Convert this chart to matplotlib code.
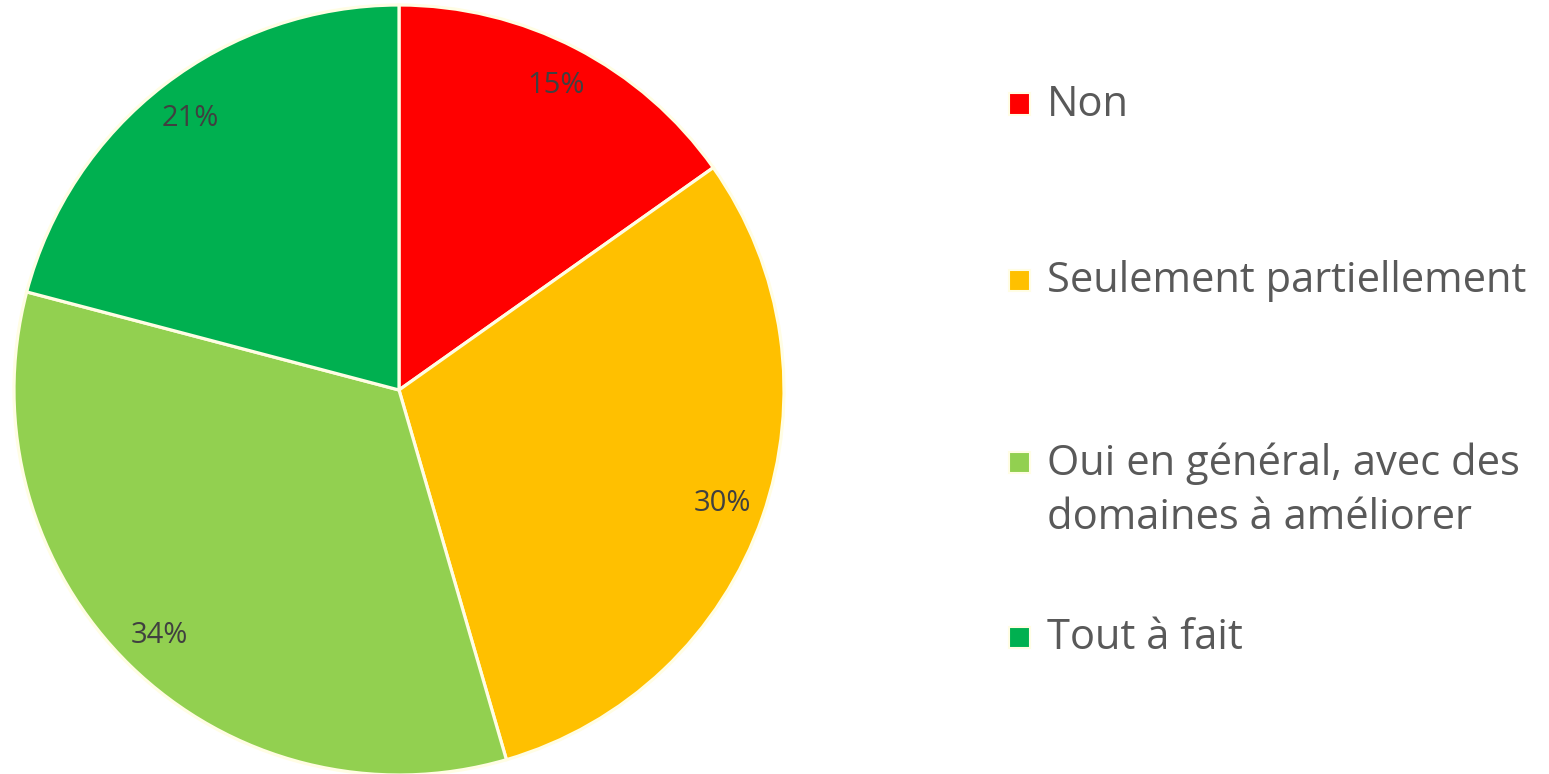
import matplotlib
matplotlib.use("Agg")
import matplotlib.pyplot as plt
from matplotlib.patches import Rectangle

labels = ["Non", "Seulement partiellement", "Oui en général, avec des\ndomaines à améliorer", "Tout à fait"]
values = [15.2, 30.3, 33.6, 20.9]
colors = ["#FF0000", "#FFC000", "#92D050", "#00B050"]
edge = "#FFFDE4"

plt.rcParams['font.family'] = ['Open Sans', 'DejaVu Sans']

W, H = 1549, 774
fig = plt.figure(figsize=(W/100., H/100.), dpi=100)

# pie axes, centre (399,390) px, radius 385 px
cx, cy, r = 399, 390, 385
ax = fig.add_axes([(cx-r)/W, (H-cy-r)/H, 2*r/W, 2*r/H])
wedges, texts, autotexts = ax.pie(values, colors=colors, startangle=90, counterclock=False,
                                  autopct=lambda p: "%d%%" % round(p), pctdistance=0.89,
                                  wedgeprops=dict(edgecolor=edge, linewidth=2.3),
                                  textprops=dict(color="#404040", fontsize=21))
ax.set_xlim(-1, 1); ax.set_ylim(-1, 1)
ax.set_aspect("equal")
ax.axis("off")
for w in wedges:
    w.set_clip_on(False)

# legend
ys = [104, 280, 462, 637]
for lab, col, y in zip(labels, colors, ys):
    fig.patches.append(Rectangle(((1009)/W, (H-y-10.5)/H), 21/W, 21/H, transform=fig.transFigure,
                                 facecolor=col, edgecolor=edge, linewidth=1.5))
    ty = y + 1 + 28*lab.count("\n")
    fig.text(1047/W, (H-ty)/H, lab, fontsize=30, color="#595959", va="center", ha="left",
             linespacing=1.36)

plt.savefig("out.png", dpi=100)
